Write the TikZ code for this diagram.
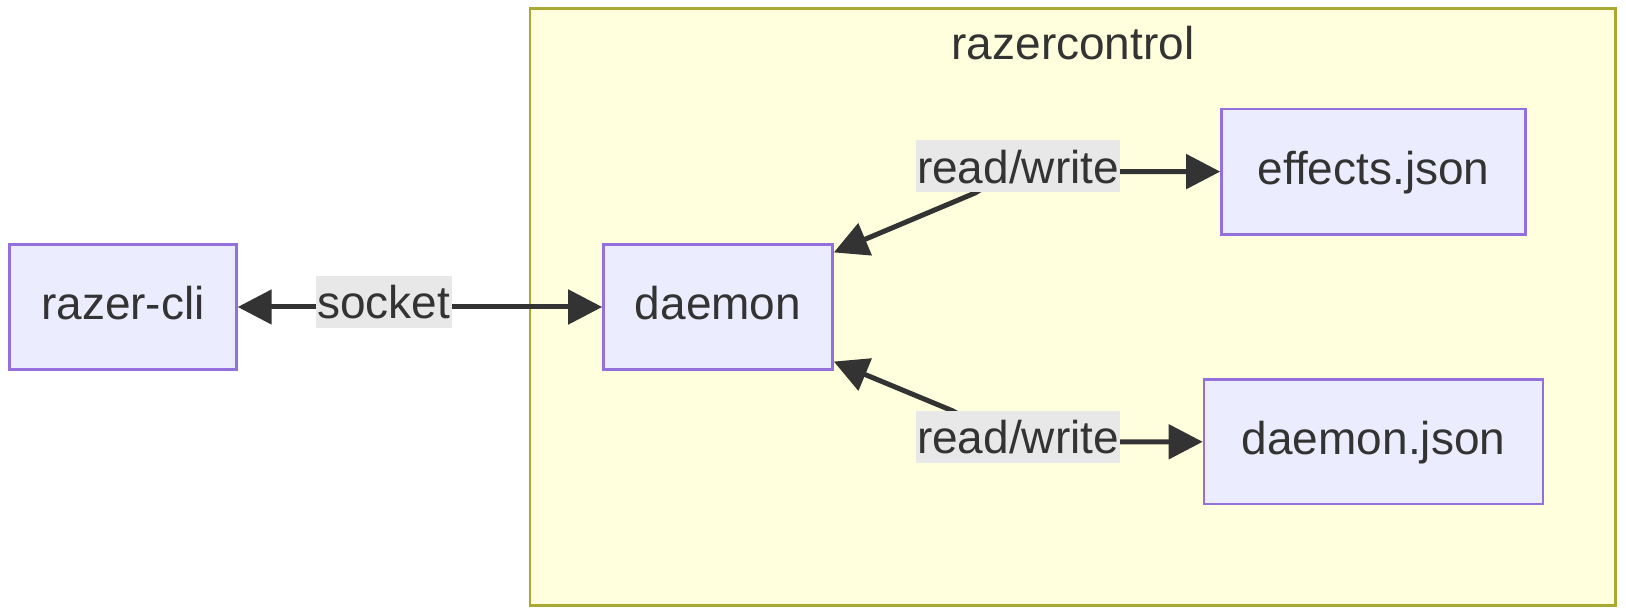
\documentclass[tikz,border=0pt]{standalone}
\usepackage{fontspec}
\setmainfont{Liberation Sans}
\usetikzlibrary{arrows.meta}
\definecolor{nodefill}{HTML}{ECECFF}
\definecolor{nodeline}{HTML}{9370DB}
\definecolor{clfill}{HTML}{FFFFDE}
\definecolor{clline}{HTML}{AAAA33}
\definecolor{edgecol}{HTML}{333333}
\definecolor{lblfill}{HTML}{E8E8E8}
\definecolor{txt}{HTML}{333333}
\begin{document}
\begin{tikzpicture}[x=1pt,y=-1pt,
  every node/.style={font=\fontsize{46pt}{52pt}\selectfont, text=txt},
  box/.style={draw=nodeline, fill=nodefill, line width=2.6pt, inner sep=0pt, minimum height=124.5pt, text height=35pt, text depth=10pt},
  elabel/.style={fill=lblfill, inner xsep=1.5pt, inner ysep=0pt, minimum height=52pt, text height=39pt, text depth=5pt},
  conn/.style={draw=edgecol, line width=5pt, {Triangle[length=34pt,width=34pt]}-{Triangle[length=34pt,width=34pt]}}
]
\useasboundingbox (0,0) rectangle (1626,612);
\draw[draw=clline, fill=clfill, line width=2.6pt] (530,8.3) rectangle (1615.6,605.6);
\node (title) at (1073,43.5) {razercontrol};

\node[box, minimum width=227pt] (cli) at (122.9,307) {razer-cli};
\node[box, minimum width=229pt] (daemon) at (718,307) {daemon};
\node[box, minimum width=304pt, minimum height=125.5pt] (effects) at (1373.5,171.6) {effects.json};
\node[box, minimum width=339pt] (djson) at (1373.5,441.8) {daemon.json};

\coordinate (dtop) at ([yshift=-9pt]daemon.north east);
\coordinate (dbot) at ([yshift=9pt]daemon.south east);
\coordinate (k1) at (975,193);
\coordinate (k1b) at (1010,171.6);
\coordinate (k2) at (952,410.6);
\coordinate (k2b) at (1010,441.8);

\draw[conn] (cli.east) -- (daemon.west);
\draw[conn] (dtop) -- (k1) -- (k1b) -- (effects.west);
\draw[conn] (dbot) -- (k2) -- (k2b) -- (djson.west);

\node[elabel] (l1) at (383.7,302) {socket};
\node[elabel] (l2) at (1018,166.5) {read/write};
\node[elabel] (l3) at (1018,436.6) {read/write};
\end{tikzpicture}
\end{document}
